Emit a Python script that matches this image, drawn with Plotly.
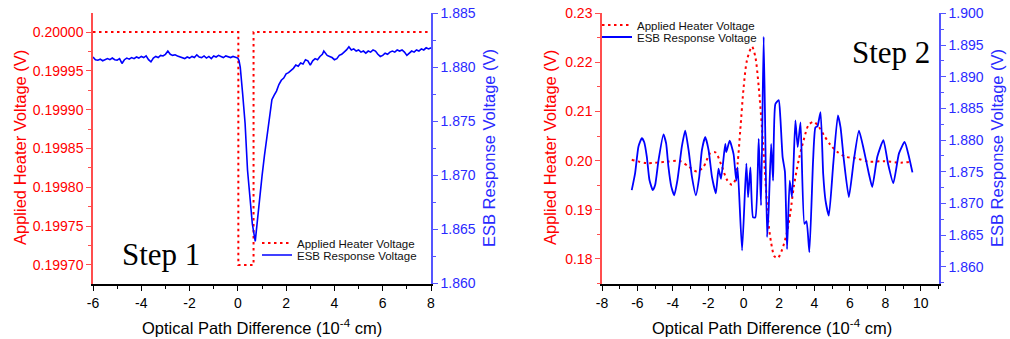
import plotly.graph_objects as go

# ---------------- data ----------------
# Step 1 (left panel)
step1_heater_opd = [-6.0, 0.02, 0.02, 0.65, 0.65, 8.0]
step1_heater_v = [0.20000, 0.20000, 0.19970, 0.19970, 0.20000, 0.20000]

step1_esb_opd = [
    -6.0, -5.9, -5.8, -5.7, -5.6, -5.5, -5.4, -5.3, -5.2, -5.1, -5.0, -4.9, -4.8, -4.7, -4.6, -4.5,
    -4.4, -4.3, -4.2, -4.1, -4.0, -3.9, -3.8, -3.7, -3.6, -3.5, -3.4, -3.3, -3.2, -3.1, -3.0, -2.9,
    -2.8, -2.7, -2.6, -2.5, -2.4, -2.3, -2.2, -2.1, -2.0, -1.9, -1.8, -1.7, -1.6, -1.5, -1.4, -1.3,
    -1.2, -1.1, -1.0, -0.9, -0.8, -0.7, -0.6, -0.5, -0.4, -0.3, -0.2, -0.1, 0.0, 0.05,
    0.1, 0.2, 0.3, 0.4, 0.5, 0.6, 0.72, 0.86, 1.0, 1.1, 1.2, 1.3, 1.41, 1.5, 1.6, 1.7, 1.8, 1.9,
    2.0, 2.1, 2.2, 2.3, 2.4, 2.5, 2.6, 2.7, 2.8, 2.9, 3.0, 3.1, 3.2, 3.3, 3.4, 3.5, 3.56, 3.7,
    3.8, 3.9, 4.0, 4.1, 4.2, 4.3, 4.4, 4.5, 4.6, 4.7, 4.8, 4.9, 5.0, 5.1, 5.2, 5.3, 5.4, 5.5,
    5.6, 5.7, 5.8, 5.9, 6.0, 6.1, 6.2, 6.3, 6.4, 6.5, 6.6, 6.7, 6.8, 6.9, 7.0, 7.1, 7.2, 7.3,
    7.4, 7.5, 7.6, 7.7, 7.8, 7.9, 8.0]
step1_esb_v = [
    1.88095, 1.88070, 1.88065, 1.88075, 1.88060, 1.88070, 1.88080, 1.88070, 1.88085, 1.88070,
    1.88065, 1.88080, 1.88035, 1.88070, 1.88085, 1.88075, 1.88090, 1.88080, 1.88095, 1.88085,
    1.88100, 1.88090, 1.88105, 1.88070, 1.88050, 1.88085, 1.88100, 1.88090, 1.88110, 1.88105,
    1.88120, 1.88150, 1.88120, 1.88110, 1.88115, 1.88105, 1.88095, 1.88090, 1.88080, 1.88095,
    1.88085, 1.88100, 1.88090, 1.88115, 1.88095, 1.88090, 1.88105, 1.88085, 1.88100, 1.88080,
    1.88105, 1.88095, 1.88110, 1.88100, 1.88090, 1.88105, 1.88095, 1.88090, 1.88100, 1.88090,
    1.88085, 1.88060,
    1.8800, 1.8775, 1.8748, 1.8705, 1.8678, 1.8655, 1.8639, 1.8671, 1.8699, 1.8718, 1.8736,
    1.8752, 1.8770, 1.8774, 1.8778, 1.8784, 1.8788, 1.8790,
    1.8794, 1.8795, 1.8797, 1.8799, 1.8802, 1.8801, 1.8804, 1.8803, 1.8807, 1.8806, 1.8802,
    1.8806, 1.8808, 1.8807, 1.8810, 1.8812, 1.8815, 1.8811,
    1.8810, 1.8809, 1.8807, 1.8808, 1.8811, 1.8812, 1.8814, 1.8816, 1.8819, 1.8816, 1.8817,
    1.8815, 1.8816, 1.8814, 1.8815, 1.8813, 1.8815, 1.8814,
    1.8816, 1.8815, 1.8812, 1.8810, 1.8811, 1.8813, 1.8812, 1.8814, 1.8815, 1.8814, 1.8816,
    1.8815, 1.8816, 1.8814, 1.8811, 1.8813, 1.8815, 1.8814,
    1.8816, 1.8815, 1.8817, 1.8816, 1.8818, 1.8817, 1.8818]

# Step 2 (right panel)
step2_heater_opd = [
    -6.32, -5.47, -4.34, -3.58, -3.11, -2.64, -2.26, -1.89, -1.60, -1.23, -0.94, -0.66, -0.47,
    -0.34, -0.19, 0.00, 0.19, 0.47, 0.66, 0.85, 1.04, 1.23, 1.38, 1.55, 1.74, 1.93, 2.17, 2.45,
    2.64, 2.83, 3.11, 3.39, 3.67, 3.96, 4.24, 4.53, 4.90, 5.28, 5.75, 6.32, 7.07, 7.92, 8.87, 9.47]
step2_heater_v = [
    0.2002, 0.1995, 0.1998, 0.1999, 0.1988, 0.1978, 0.1988, 0.2015, 0.2017, 0.1988, 0.1961,
    0.1951, 0.1961, 0.1995, 0.2063, 0.2150, 0.2205, 0.2232, 0.2211, 0.2150, 0.2063, 0.1961,
    0.1880, 0.1833, 0.1805, 0.1802, 0.1819, 0.1855, 0.1895, 0.1947, 0.2002, 0.2042, 0.2073,
    0.2079, 0.2069, 0.2052, 0.2032, 0.2018, 0.2008, 0.2005, 0.1998, 0.1999, 0.1996, 0.1998]

step2_esb_opd = [
    -6.32, -6.13, -5.94, -5.75, -5.62, -5.47, -5.32, -5.13, -5.00, -4.81, -4.53, -4.38, -4.25,
    -4.09, -3.92, -3.74, -3.49, -3.30, -3.11, -2.92, -2.70, -2.51, -2.36, -2.17, -1.98, -1.79,
    -1.57, -1.42, -1.28, -1.04, -0.98, -0.79, -0.57, -0.42, -0.34, -0.09, 0.15, 0.25, 0.38,
    0.53, 0.66, 0.85, 0.98, 1.13, 1.32, 1.41, 1.55, 1.66, 1.79, 1.98, 2.07, 2.20, 2.33, 2.45,
    2.60, 2.73, 2.92, 3.05, 3.21, 3.43, 3.55, 3.71, 3.92, 4.05, 4.17, 4.34, 4.49, 4.62, 4.81,
    5.06, 5.32, 5.47, 5.66, 5.94, 6.22, 6.51, 6.79, 7.07, 7.26, 7.55, 7.89, 8.15, 8.45, 8.77,
    9.09, 9.34, 9.53]
step2_esb_v = [
    1.8721, 1.8748, 1.8790, 1.8803, 1.8797, 1.8774, 1.8737, 1.8721, 1.8729, 1.8768, 1.8809,
    1.8795, 1.8758, 1.8727, 1.8713, 1.8737, 1.8790, 1.8815, 1.8784, 1.8742, 1.8713, 1.8742,
    1.8784, 1.8805, 1.8784, 1.8742, 1.8716, 1.8755, 1.8739, 1.8794, 1.8781, 1.8799, 1.8778,
    1.8736, 1.8757, 1.8626, 1.8763, 1.8710, 1.8757, 1.8678, 1.8678, 1.8802, 1.8697, 1.8963,
    1.8647, 1.8689, 1.8794, 1.8736, 1.8857, 1.8863, 1.8836, 1.8773, 1.8750, 1.8628, 1.8736,
    1.8710, 1.8831, 1.8789, 1.8828, 1.8668, 1.8672, 1.8623, 1.8768, 1.8820, 1.8822, 1.8844,
    1.8747, 1.8705, 1.8681, 1.8763, 1.8839, 1.8820, 1.8768, 1.8710, 1.8768, 1.8815, 1.8784,
    1.8747, 1.8726, 1.8774, 1.8800, 1.8763, 1.8732, 1.8779, 1.8797, 1.8773, 1.8749]

# tick labels
step1_x_tickvals = [-6, -4, -2, 0, 2, 4, 6, 8]
step1_x_ticktext = ["-6", "-4", "-2", "0", "2", "4", "6", "8"]
step1_x_minorvals = [-5, -3, -1, 1, 3, 5, 7]
step2_x_tickvals = [-8, -6, -4, -2, 0, 2, 4, 6, 8, 10]
step2_x_ticktext = ["-8", "-6", "-4", "-2", "0", "2", "4", "6", "8", "10"]
step2_x_minorvals = [-7, -5, -3, -1, 1, 3, 5, 7, 9, 11]

heater_name = "Applied Heater Voltage"
esb_name = "ESB Response Voltage"
x_title = "Optical Path Difference (10<sup>-4</sup> cm)"
left_y_title = "Applied Heater Voltage (V)"
right_y_title = "ESB Response Voltage (V)"

# ---------------- figure ----------------
W, H = 1010, 339
def px(v):
    return v / W
def py(v):
    return 1 - v / H

SANS = "Liberation Sans, Arial, sans-serif"
SERIF = "Liberation Serif, Times New Roman, serif"
RED = "#ff0000"
BLUE = "#0000ff"
RED_AX = "#ff4d4d"
BLUE_AX = "#5555ff"
BLUE_TXT = "#2a2aff"
DOT = "2.5px,3.5px"

fig = go.Figure()
fig.add_trace(go.Scatter(x=step1_heater_opd, y=step1_heater_v, xaxis="x", yaxis="y",
                         mode="lines", name=heater_name, legend="legend",
                         line=dict(color=RED, width=2, dash=DOT)))
fig.add_trace(go.Scatter(x=step1_esb_opd, y=step1_esb_v, xaxis="x", yaxis="y2",
                         mode="lines", name=esb_name, legend="legend2",
                         line=dict(color=BLUE, width=1.6)))
fig.add_trace(go.Scatter(x=step2_esb_opd, y=step2_esb_v, xaxis="x2", yaxis="y4",
                         mode="lines", name=esb_name, legend="legend4",
                         line=dict(color=BLUE, width=1.8, shape="spline", smoothing=0.5)))
fig.add_trace(go.Scatter(x=step2_heater_opd, y=step2_heater_v, xaxis="x2", yaxis="y3",
                         mode="lines", name=heater_name, legend="legend3",
                         line=dict(color=RED, width=2, dash=DOT, shape="spline", smoothing=0.8)))

ydom = [py(284), py(13)]
common = dict(showgrid=False, zeroline=False, showline=True, ticks="outside", ticklen=5,
              tickwidth=1, automargin=False)

def tf(color):
    return dict(family=SANS, size=14, color=color)

def top_axis(base, anchor, rng, vals, minors, color):
    return dict(overlaying=base, anchor=anchor, side="top", range=rng,
                tickmode="array", tickvals=vals, automargin=False,
                showgrid=False, zeroline=False, showline=True, linecolor=color, linewidth=1.5,
                ticks="inside", ticklen=4, tickcolor="black", showticklabels=False,
                minor=dict(tickvals=minors, ticks="inside", ticklen=3, tickcolor="black"))

fig.update_layout(
    width=W, height=H, autosize=False,
    margin=dict(l=0, r=0, t=0, b=0, pad=0),
    paper_bgcolor="white", plot_bgcolor="white",
    xaxis=dict(domain=[px(93), px(431)], anchor="y", range=[-6, 8],
               tickmode="array", tickvals=step1_x_tickvals, ticktext=step1_x_ticktext,
               linecolor="black", linewidth=1.5, tickcolor="black", tickfont=tf("black"),
               minor=dict(tickvals=step1_x_minorvals, ticks="outside", ticklen=3,
                          tickcolor="black"), **common),
    xaxis3=top_axis("x", "y", [-6, 8], step1_x_tickvals, step1_x_minorvals, BLUE_AX),
    yaxis=dict(domain=ydom, anchor="x", range=[0.1996755, 0.2000245], dtick=0.00005, tick0=0.2,
               tickformat=".5f", linecolor=RED_AX, linewidth=1.5, tickcolor=RED_AX,
               tickfont=tf(RED),
               minor=dict(dtick=0.000025, ticks="outside", ticklen=3, tickcolor=RED_AX), **common),
    yaxis2=dict(overlaying="y", anchor="x", side="right", range=[1.85995, 1.88502], dtick=0.005,
                tick0=1.86, tickformat=".3f", linecolor=BLUE_AX, linewidth=1.5,
                tickcolor=BLUE_AX, tickfont=tf(BLUE_TXT),
                minor=dict(dtick=0.0025, ticks="outside", ticklen=3, tickcolor=BLUE_AX), **common),
    xaxis2=dict(domain=[px(602), px(939)], anchor="y3", range=[-8, 11.03],
                tickmode="array", tickvals=step2_x_tickvals, ticktext=step2_x_ticktext,
                linecolor="black", linewidth=1.5, tickcolor="black", tickfont=tf("black"),
                minor=dict(tickvals=step2_x_minorvals, ticks="outside", ticklen=3,
                           tickcolor="black"), **common),
    xaxis4=top_axis("x2", "y3", [-8, 11.03], step2_x_tickvals, step2_x_minorvals, "black"),
    yaxis3=dict(domain=ydom, anchor="x2", range=[0.1749, 0.23005], dtick=0.01, tick0=0.18,
                tickformat=".2f", linecolor=RED_AX, linewidth=1.5, tickcolor=RED_AX,
                tickfont=tf(RED),
                minor=dict(dtick=0.005, ticks="outside", ticklen=3, tickcolor=RED_AX), **common),
    yaxis4=dict(overlaying="y3", anchor="x2", side="right", range=[1.8573, 1.90005], dtick=0.005,
                tick0=1.86, tickformat=".3f", linecolor=BLUE_AX, linewidth=1.5,
                tickcolor=BLUE_AX, tickfont=tf(BLUE_TXT),
                minor=dict(dtick=0.0025, ticks="outside", ticklen=3, tickcolor=BLUE_AX), **common),
    showlegend=True,
)

leg_font = dict(family=SANS, size=11.5, color="#111111")
def leg(xp, yp):
    return dict(x=px(xp), y=py(yp), xanchor="left", yanchor="middle", bgcolor="rgba(0,0,0,0)",
                borderwidth=0, font=leg_font, itemwidth=30, tracegroupgap=0)

fig.update_layout(
    legend=leg(257, 243), legend2=leg(257, 255),
    legend3=leg(597, 25), legend4=leg(597, 37),
)

ann = []
def title(text, x, y, angle=0, color="black", size=16.5):
    ann.append(dict(text=text, x=px(x), y=py(y), xref="paper", yref="paper", showarrow=False,
                    textangle=angle, xanchor="center", yanchor="middle",
                    font=dict(family=SANS, size=size, color=color)))

title(x_title, 262, 327)
title(x_title, 772, 327)
title(left_y_title, 20, 148, -90, RED)
title(right_y_title, 489, 148, -90, BLUE_TXT)
title(left_y_title, 550, 148, -90, RED)
title(right_y_title, 997, 148, -90, BLUE_TXT)

for text, x, y in [("Step 1", 161, 255), ("Step 2", 891, 53)]:
    ann.append(dict(text=text, x=px(x), y=py(y), xref="paper", yref="paper", showarrow=False,
                    xanchor="center", yanchor="middle",
                    font=dict(family=SERIF, size=31, color="black")))

fig.update_layout(annotations=ann)
fig.write_html("out.html")
